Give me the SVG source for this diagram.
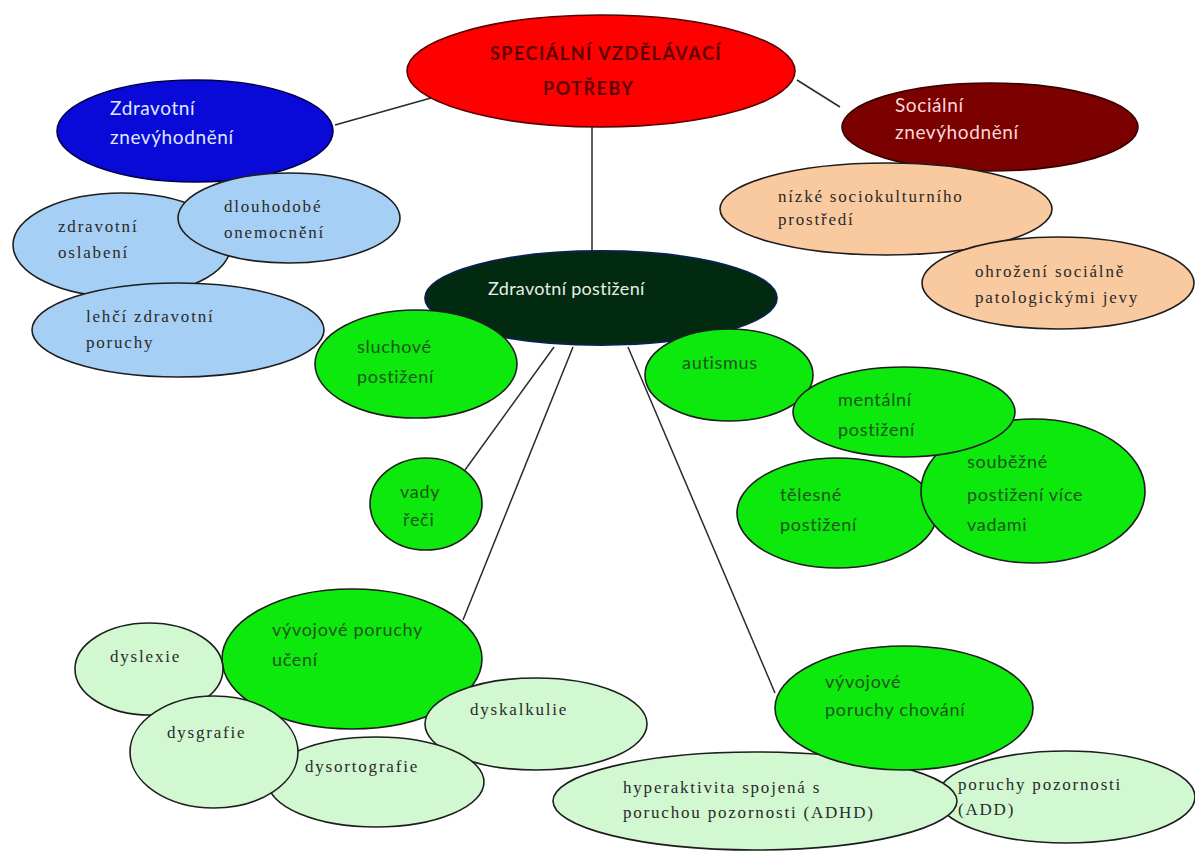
<svg xmlns="http://www.w3.org/2000/svg" width="1195" height="857" viewBox="0 0 1195 857">
<style>
.ln{stroke:#2a2a2a;stroke-width:1.5;fill:none}
.ol{stroke:#1e1e1e;stroke-width:1.6}
.g{fill:#0de80d}
.lb{fill:#a6cff5}
.pc{fill:#f9c9a0}
.lg{fill:#d2f8d2}
.sg{font-family:Lato,"Open Sans","Liberation Sans",sans-serif;font-size:18px;fill:#1c551c;letter-spacing:0.7px}
.sf{font-family:"Liberation Serif","Times New Roman",serif;font-size:17px;fill:#2a2a2a;letter-spacing:1.8px}
.wt{font-family:Lato,"Open Sans","Liberation Sans",sans-serif;font-size:19px;letter-spacing:0.6px}
.tt{font-family:Lato,"Liberation Sans",sans-serif;font-size:18px;font-weight:bold;fill:#5c0000;letter-spacing:1.5px}
</style>
<rect width="1195" height="857" fill="#ffffff"/>
<g id="connectors">
<line class="ln" x1="335" y1="125" x2="431" y2="98"/>
<line class="ln" x1="797" y1="80" x2="840" y2="107"/>
<line class="ln" x1="592" y1="127" x2="592" y2="252"/>
<line class="ln" x1="554" y1="347" x2="465" y2="470"/>
<line class="ln" x1="573" y1="347" x2="463" y2="620"/>
<line class="ln" x1="628" y1="347" x2="775" y2="693"/>
</g>
<g id="n-root">
<ellipse cx="601" cy="71" rx="194" ry="56" fill="#ff0000" stroke="#5a0000" stroke-width="1.6"/>
<text class="tt" x="490" y="60">SPECIÁLNÍ VZDĚLÁVACÍ</text>
<text class="tt" x="543" y="95">POTŘEBY</text>
</g>
<g id="n-zdrav-znev">
<ellipse cx="195" cy="131" rx="138" ry="51" fill="#0a0ad8" stroke="#00004a" stroke-width="1.6"/>
<text class="wt" x="110" y="115" fill="#dfe7ff">Zdravotní</text>
<text class="wt" x="110" y="144" fill="#dfe7ff">znevýhodnění</text>
</g>
<g id="n-soc-znev">
<ellipse cx="990" cy="127" rx="148" ry="44" fill="#7b0000" stroke="#3a0000" stroke-width="1.6"/>
<text class="wt" x="895" y="112" fill="#ffd6d6">Sociální</text>
<text class="wt" x="895" y="139" fill="#ffd6d6">znevýhodnění</text>
</g>
<g id="n-oslabeni">
<ellipse class="lb ol" cx="122" cy="245" rx="109" ry="52"/>
<text class="sf" x="58" y="232">zdravotní</text>
<text class="sf" x="58" y="258">oslabení</text>
</g>
<g id="n-dlouhodobe">
<ellipse class="lb ol" cx="289" cy="218" rx="111" ry="45"/>
<text class="sf" x="224" y="212">dlouhodobé</text>
<text class="sf" x="224" y="238">onemocnění</text>
</g>
<g id="n-lehci">
<ellipse class="lb ol" cx="178" cy="330" rx="146" ry="47"/>
<text class="sf" x="86" y="322">lehčí zdravotní</text>
<text class="sf" x="86" y="348">poruchy</text>
</g>
<g id="n-nizke">
<ellipse class="pc ol" cx="886" cy="209" rx="166" ry="46"/>
<text class="sf" x="778" y="202">nízké sociokulturního</text>
<text class="sf" x="778" y="225">prostředí</text>
</g>
<g id="n-ohrozeni">
<ellipse class="pc ol" cx="1058" cy="283" rx="136" ry="46"/>
<text class="sf" x="975" y="277">ohrožení sociálně</text>
<text class="sf" x="975" y="303">patologickými jevy</text>
</g>
<g id="n-zdrav-post">
<ellipse cx="601" cy="298" rx="176" ry="47" fill="#022a10" stroke="#0a2250" stroke-width="1.8"/>
<text x="488" y="295" font-family="Lato,'Open Sans','Liberation Sans',sans-serif" font-size="18" fill="#e6efe6" letter-spacing="0.3">Zdravotní postižení</text>
</g>
<g id="n-sluchove">
<ellipse class="g ol" cx="416" cy="364" rx="101" ry="54"/>
<text class="sg" x="357" y="353">sluchové</text>
<text class="sg" x="357" y="383">postižení</text>
</g>
<g id="n-vady">
<ellipse class="g ol" cx="426" cy="504" rx="56" ry="46"/>
<text class="sg" x="400" y="498">vady</text>
<text class="sg" x="403" y="526">řeči</text>
</g>
<g id="n-autismus">
<ellipse class="g ol" cx="729" cy="375" rx="84" ry="46"/>
<text class="sg" x="682" y="369">autismus</text>
</g>
<g id="n-telesne">
<ellipse class="g ol" cx="837" cy="513" rx="100" ry="55"/>
<text class="sg" x="780" y="501">tělesné</text>
<text class="sg" x="780" y="531">postižení</text>
</g>
<g id="n-soubezne">
<ellipse class="g ol" cx="1033" cy="491" rx="112" ry="72"/>
<text class="sg" x="967" y="468">souběžné</text>
<text class="sg" x="967" y="501">postižení více</text>
<text class="sg" x="967" y="531">vadami</text>
</g>
<g id="n-mentalni">
<ellipse class="g ol" cx="904" cy="412" rx="111" ry="45"/>
<text class="sg" x="838" y="406">mentální</text>
<text class="sg" x="838" y="436">postižení</text>
</g>
<g id="n-vyv-uceni">
<ellipse class="g ol" cx="352" cy="659" rx="130" ry="70"/>
<text class="sg" x="272" y="636">vývojové poruchy</text>
<text class="sg" x="272" y="666">učení</text>
</g>
<g id="n-dyslexie">
<ellipse class="lg ol" cx="149" cy="669" rx="74" ry="46"/>
<text class="sf" x="110" y="662">dyslexie</text>
</g>
<g id="n-dyskalkulie">
<ellipse class="lg ol" cx="536" cy="724" rx="111" ry="46"/>
<text class="sf" x="470" y="715">dyskalkulie</text>
</g>
<g id="n-dysortografie">
<ellipse class="lg ol" cx="376" cy="782" rx="108" ry="45"/>
<text class="sf" x="305" y="772">dysortografie</text>
</g>
<g id="n-dysgrafie">
<ellipse class="lg ol" cx="214" cy="752" rx="84" ry="56"/>
<text class="sf" x="167" y="738">dysgrafie</text>
</g>
<g id="n-add">
<ellipse class="lg ol" cx="1066" cy="797" rx="129" ry="46"/>
<text class="sf" x="958" y="790">poruchy pozornosti</text>
<text class="sf" x="958" y="815">(ADD)</text>
</g>
<g id="n-adhd">
<ellipse class="lg ol" cx="755" cy="801" rx="202" ry="49"/>
<text class="sf" x="623" y="793">hyperaktivita spojená s</text>
<text class="sf" x="623" y="818">poruchou pozornosti (ADHD)</text>
</g>
<g id="n-vyv-chovani">
<ellipse class="g ol" cx="904" cy="708" rx="129" ry="62"/>
<text class="sg" x="825" y="688">vývojové</text>
<text class="sg" x="825" y="716">poruchy chování</text>
</g>
</svg>
